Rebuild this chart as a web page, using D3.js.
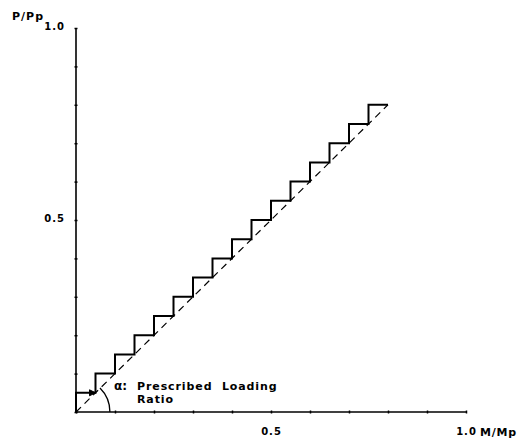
<!DOCTYPE html>
<html><head><meta charset="utf-8">
<script src="https://cdn.jsdelivr.net/npm/d3@7"></script>
<style>
body{margin:0;background:#fff;}
text{font-family:"DejaVu Sans",sans-serif;font-weight:bold;fill:#000;}
</style></head>
<body><svg id="c" width="532" height="439"></svg>
<script>
// staircase loading path (M/Mp, P/Pp)
const stepM = [0,0,0.05,0.05,0.10,0.10,0.15,0.15,0.20,0.20,0.25,0.25,0.30,0.30,0.35,0.35,0.40,0.40,0.45,0.45,0.50,0.50,0.55,0.55,0.60,0.60,0.65,0.65,0.70,0.70,0.75,0.75,0.80];
const stepP = [0,0.05,0.05,0.10,0.10,0.15,0.15,0.20,0.20,0.25,0.25,0.30,0.30,0.35,0.35,0.40,0.40,0.45,0.45,0.50,0.50,0.55,0.55,0.60,0.60,0.65,0.65,0.70,0.70,0.75,0.75,0.80,0.80];
// prescribed loading ratio (dashed)
const ratioM = [0,0.80];
const ratioP = [0,0.80];
const tickVals = [0,0.1,0.2,0.3,0.4,0.5,0.6,0.7,0.8,0.9,1.0];
const xTickLabels = {0.5:"0.5", 1.0:"1.0"};
const yTickLabels = {0.5:"0.5", 1.0:"1.0"};
const xTitle = "M/Mp", yTitle = "P/Pp";
const noteSym = "α:", note1 = "Prescribed  Loading", note2 = "Ratio";

const svg = d3.select("#c");
const x = d3.scaleLinear().domain([0,1]).range([76,466]);
const y = d3.scaleLinear().domain([0,1]).range([412,28]);

// axes
const xa = svg.append("g").attr("transform","translate(0,"+y(0)+")")
  .call(d3.axisBottom(x).tickValues(tickVals).tickSize(3).tickFormat(d=>xTickLabels[d]||""));
xa.selectAll(".tick line").attr("y1",-1.5).attr("y2",1.5).attr("stroke-width",1.5);
xa.select(".domain").attr("stroke-width",1.6).attr("d","M"+x(0)+",0H"+x(1));
xa.selectAll(".tick text").attr("y",16).attr("font-size",10).attr("letter-spacing",1)
  .attr("font-family","DejaVu Sans").attr("font-weight","bold");

const ya = svg.append("g").attr("transform","translate("+x(0)+",0)")
  .call(d3.axisLeft(y).tickValues(tickVals).tickSize(3).tickFormat(d=>yTickLabels[d]||""));
ya.selectAll(".tick line").attr("x1",-1.5).attr("x2",1.5).attr("stroke-width",1.5);
ya.select(".domain").attr("stroke-width",1.6).attr("d","M0,"+y(0)+"V"+y(1));
ya.selectAll(".tick text").attr("x",-11).attr("dy","0.1em").attr("font-size",10).attr("letter-spacing",1)
  .attr("font-family","DejaVu Sans").attr("font-weight","bold");

svg.append("text").attr("x",480).attr("y",436).attr("font-size",11).attr("letter-spacing",0.8).text(xTitle);
svg.append("text").attr("x",12).attr("y",20).attr("font-size",11).attr("letter-spacing",1).text(yTitle);

// dashed ratio line
const line = d3.line().x(d=>x(d[0])).y(d=>y(d[1]));
svg.append("path").datum(ratioM.map((m,i)=>[m,ratioP[i]]))
  .attr("d",line).attr("fill","none").attr("stroke","#000").attr("stroke-width",1.2)
  .attr("stroke-dasharray","7,5");

// staircase
svg.append("path").datum(stepM.map((m,i)=>[m,stepP[i]]))
  .attr("d",line).attr("fill","none").attr("stroke","#000").attr("stroke-width",2)
  .attr("stroke-linejoin","miter");

// arrowhead at end of first horizontal step
const ax = x(stepM[2]), ay = y(stepP[2]);
svg.append("path").attr("d",`M${ax-6},${ay-3}L${ax},${ay}L${ax-6},${ay+3}Z`)
  .attr("fill","#000").attr("stroke","#000").attr("stroke-width",1);

// angle arc alpha
const r = x(0.087)-x(0);
const arc = d3.arc().innerRadius(r).outerRadius(r).startAngle(Math.PI/4).endAngle(Math.PI/2);
svg.append("path").attr("transform","translate("+x(0)+","+y(0)+")").attr("d",arc())
  .attr("fill","none").attr("stroke","#000").attr("stroke-width",1.3);

svg.append("text").attr("x",114).attr("y",390).attr("font-size",12).text(noteSym);
svg.append("text").attr("x",137).attr("y",390).attr("font-size",11).attr("letter-spacing",0.9)
  .attr("xml:space","preserve").text(note1);
svg.append("text").attr("x",137).attr("y",403).attr("font-size",11).attr("letter-spacing",0.9).text(note2);
</script></body></html>
